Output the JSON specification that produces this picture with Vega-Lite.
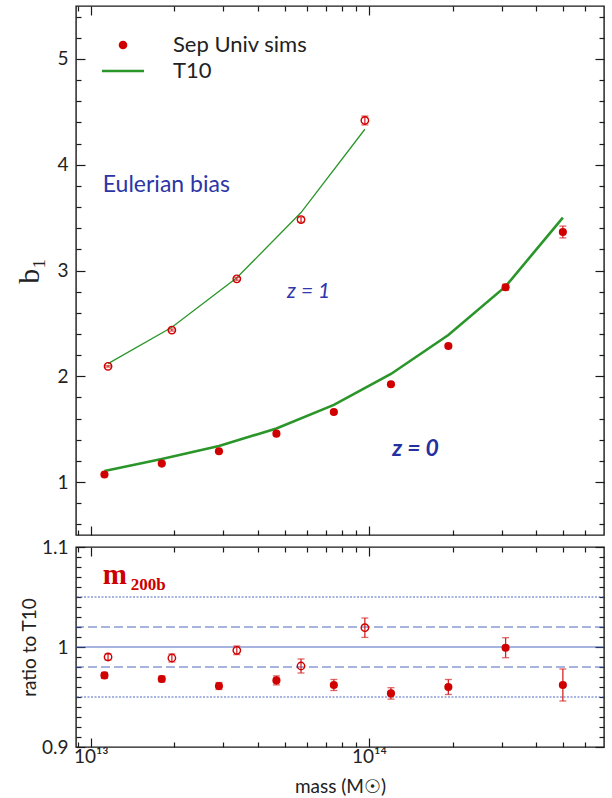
{
  "$schema": "https://vega.github.io/schema/vega-lite/v6.json",
  "background": "white",
  "padding": {"left": 14, "top": 4, "right": 8, "bottom": 0},
  "spacing": 0,
  "datasets": {
    "sims": [
      {"mass": 1.12e13, "b": 1.072, "berr": 0.004, "ratio": 0.9716, "rerr": 0.003, "z": "0"},
      {"mass": 1.80e13, "b": 1.175, "berr": 0.004, "ratio": 0.968, "rerr": 0.003, "z": "0"},
      {"mass": 2.89e13, "b": 1.292, "berr": 0.005, "ratio": 0.961, "rerr": 0.0035, "z": "0"},
      {"mass": 4.65e13, "b": 1.458, "berr": 0.006, "ratio": 0.9666, "rerr": 0.0045, "z": "0"},
      {"mass": 7.48e13, "b": 1.663, "berr": 0.009, "ratio": 0.962, "rerr": 0.0055, "z": "0"},
      {"mass": 1.20e14, "b": 1.925, "berr": 0.012, "ratio": 0.9536, "rerr": 0.0057, "z": "0"},
      {"mass": 1.93e14, "b": 2.286, "berr": 0.018, "ratio": 0.960, "rerr": 0.0075, "z": "0"},
      {"mass": 3.10e14, "b": 2.842, "berr": 0.028, "ratio": 0.9993, "rerr": 0.010, "z": "0"},
      {"mass": 4.98e14, "b": 3.364, "berr": 0.056, "ratio": 0.962, "rerr": 0.016, "z": "0"},
      {"mass": 1.154e13, "b": 2.094, "berr": 0.007, "ratio": 0.990, "rerr": 0.003, "z": "1"},
      {"mass": 1.957e13, "b": 2.437, "berr": 0.010, "ratio": 0.989, "rerr": 0.004, "z": "1"},
      {"mass": 3.35e13, "b": 2.921, "berr": 0.013, "ratio": 0.9967, "rerr": 0.0043, "z": "1"},
      {"mass": 5.70e13, "b": 3.481, "berr": 0.025, "ratio": 0.981, "rerr": 0.007, "z": "1"},
      {"mass": 9.67e13, "b": 4.418, "berr": 0.042, "ratio": 1.0193, "rerr": 0.0097, "z": "1"}
    ],
    "t10": [
      {"mass": 1.12e13, "b": 1.105, "z": "0"},
      {"mass": 1.80e13, "b": 1.218, "z": "0"},
      {"mass": 2.89e13, "b": 1.342, "z": "0"},
      {"mass": 4.65e13, "b": 1.507, "z": "0"},
      {"mass": 7.48e13, "b": 1.730, "z": "0"},
      {"mass": 1.20e14, "b": 2.022, "z": "0"},
      {"mass": 1.93e14, "b": 2.39, "z": "0"},
      {"mass": 3.10e14, "b": 2.85, "z": "0"},
      {"mass": 4.98e14, "b": 3.50, "z": "0"},
      {"mass": 1.154e13, "b": 2.12, "z": "1"},
      {"mass": 1.957e13, "b": 2.464, "z": "1"},
      {"mass": 3.35e13, "b": 2.931, "z": "1"},
      {"mass": 5.70e13, "b": 3.548, "z": "1"},
      {"mass": 9.67e13, "b": 4.335, "z": "1"}
    ],
    "refs": [
      {"ratio": 1.05, "style": "dotted"},
      {"ratio": 1.02, "style": "dashed"},
      {"ratio": 1.0, "style": "solid"},
      {"ratio": 0.98, "style": "dashed"},
      {"ratio": 0.95, "style": "dotted"}
    ]
  },
  "resolve": {"legend": {"color": "independent"}},
  "vconcat": [
    {
      "width": 528,
      "height": 529,
      "resolve": {"axis": {"x": "independent", "y": "independent"}},
      "layer": [
        {
          "data": {"name": "t10"},
          "mark": {"type": "line"},
          "encoding": {
            "x": {"field": "mass", "type": "quantitative", "scale": {"type": "log", "domain": [8.85e12, 7e14], "nice": false},
                  "axis": {"orient": "bottom", "values": [1e13, 1e14], "labels": false, "tickSize": -9, "title": null, "domain": false}},
            "y": {"field": "b", "type": "quantitative", "scale": {"domain": [0.5, 5.5], "zero": false, "nice": false},
                  "axis": {"orient": "left", "values": [1, 2, 3, 4, 5], "tickSize": -9, "labelPadding": 17, "domain": false,
                           "title": "b₁", "titleFont": "Liberation Serif", "titleFontSize": 30, "titlePadding": 12}},
            "detail": {"field": "z"},
            "strokeWidth": {"field": "z", "type": "nominal", "scale": {"domain": ["0", "1"], "range": [2.6, 1.3]}, "legend": null},
            "color": {"datum": "T10", "type": "nominal",
                      "scale": {"domain": ["Sep Univ sims", "T10"], "range": ["#d10000", "#2a962a"]},
                      "legend": {"orient": "none", "legendX": 36, "legendY": 28, "title": null, "padding": 0,
                                 "labelFont": "Lato", "labelFontSize": 22, "labelColor": "#222", "labelOffset": 39,
                                 "rowPadding": 4, "symbolSize": 1764,
                                 "encode": {"symbols": {"update": {
                                   "shape": {"signal": "datum.value === 'T10' ? 'stroke' : 'circle'"},
                                   "size": {"signal": "datum.value === 'T10' ? 1764 : 75"},
                                   "fill": {"signal": "datum.value === 'T10' ? 'transparent' : '#d10000'"},
                                   "stroke": {"signal": "datum.value === 'T10' ? '#2a962a' : '#d10000'"},
                                   "strokeWidth": {"signal": "datum.value === 'T10' ? 2.6 : 0"},
                                   "opacity": {"value": 1}
                                 }}}}}
          }
        },
        {
          "data": {"name": "sims"},
          "mark": {"type": "errorbar", "ticks": true, "color": "#d4262a", "size": 7, "thickness": 1.3},
          "encoding": {
            "x": {"field": "mass", "type": "quantitative", "scale": {"type": "log", "domain": [8.85e12, 7e14], "nice": false}, "axis": null},
            "y": {"field": "b", "type": "quantitative", "scale": {"domain": [0.5, 5.5], "zero": false, "nice": false}, "axis": null},
            "yError": {"field": "berr"}
          }
        },
        {
          "data": {"name": "sims"},
          "transform": [{"filter": "datum.z === '0'"}],
          "mark": {"type": "point", "filled": true, "size": 66, "opacity": 1, "color": "#d10000"},
          "encoding": {
            "x": {"field": "mass", "type": "quantitative", "scale": {"type": "log", "domain": [8.85e12, 7e14], "nice": false},
                  "axis": {"orient": "bottom", "values": [9e12, 2e13, 3e13, 4e13, 5e13, 6e13, 7e13, 8e13, 9e13, 2e14, 3e14, 4e14, 5e14, 6e14], "labels": false, "tickSize": -5, "title": null, "domain": false}},
            "y": {"field": "b", "type": "quantitative", "scale": {"domain": [0.5, 5.5], "zero": false, "nice": false},
                  "axis": {"orient": "left", "values": [0.6, 0.8, 1.2, 1.4, 1.6, 1.8, 2.2, 2.4, 2.6, 2.8, 3.2, 3.4, 3.6, 3.8, 4.2, 4.4, 4.6, 4.8, 5.2, 5.4], "labels": false, "tickSize": -5, "title": null, "domain": false}}
          }
        },
        {
          "data": {"name": "sims"},
          "transform": [{"filter": "datum.z === '1'"}],
          "mark": {"type": "point", "filled": false, "size": 55, "strokeWidth": 1.4, "opacity": 1, "color": "#d10000"},
          "encoding": {
            "x": {"field": "mass", "type": "quantitative", "scale": {"type": "log", "domain": [8.85e12, 7e14], "nice": false},
                  "axis": {"orient": "top", "values": [1e13, 1e14], "labels": false, "tickSize": -9, "title": null, "domain": false}},
            "y": {"field": "b", "type": "quantitative", "scale": {"domain": [0.5, 5.5], "zero": false, "nice": false},
                  "axis": {"orient": "right", "values": [1, 2, 3, 4, 5], "labels": false, "tickSize": -9, "title": null, "domain": false}}
          }
        },
        {
          "data": {"values": [{"label": "Eulerian bias"}]},
          "mark": {"type": "text", "align": "left", "baseline": "middle", "font": "Lato", "fontSize": 23, "color": "#2c35a6"},
          "encoding": {
            "x": {"datum": 1.105e13, "type": "quantitative", "scale": {"type": "log", "domain": [8.85e12, 7e14], "nice": false},
                  "axis": {"orient": "top", "values": [9e12, 2e13, 3e13, 4e13, 5e13, 6e13, 7e13, 8e13, 9e13, 2e14, 3e14, 4e14, 5e14, 6e14], "labels": false, "tickSize": -5, "title": null, "domain": false}},
            "y": {"datum": 3.81, "type": "quantitative", "scale": {"domain": [0.5, 5.5], "zero": false, "nice": false},
                  "axis": {"orient": "right", "values": [0.6, 0.8, 1.2, 1.4, 1.6, 1.8, 2.2, 2.4, 2.6, 2.8, 3.2, 3.4, 3.6, 3.8, 4.2, 4.4, 4.6, 4.8, 5.2, 5.4], "labels": false, "tickSize": -5, "title": null, "domain": false}},
            "text": {"field": "label"}
          }
        },
        {
          "data": {"values": [{"label": "z = 1"}]},
          "mark": {"type": "text", "align": "left", "baseline": "middle", "font": "Lato", "fontSize": 21, "fontStyle": "italic", "color": "#3038ac"},
          "encoding": {
            "x": {"datum": 5.08e13, "type": "quantitative", "scale": {"type": "log", "domain": [8.85e12, 7e14], "nice": false}, "axis": null},
            "y": {"datum": 2.795, "type": "quantitative", "scale": {"domain": [0.5, 5.5], "zero": false, "nice": false}, "axis": null},
            "text": {"field": "label"}
          }
        },
        {
          "data": {"values": [{"label": "z = 0"}]},
          "mark": {"type": "text", "align": "left", "baseline": "middle", "font": "Lato", "fontSize": 23, "fontStyle": "italic", "fontWeight": "bold", "color": "#2530a0"},
          "encoding": {
            "x": {"datum": 1.213e14, "type": "quantitative", "scale": {"type": "log", "domain": [8.85e12, 7e14], "nice": false}, "axis": null},
            "y": {"datum": 1.317, "type": "quantitative", "scale": {"domain": [0.5, 5.5], "zero": false, "nice": false}, "axis": null},
            "text": {"field": "label"}
          }
        }
      ]
    },
    {
      "width": 528,
      "height": 200,
      "resolve": {"axis": {"x": "independent", "y": "independent"}},
      "layer": [
        {
          "data": {"name": "refs"},
          "mark": {"type": "rule", "color": "#3a58b8", "strokeWidth": 0.9},
          "encoding": {
            "y": {"field": "ratio", "type": "quantitative", "scale": {"domain": [0.9, 1.1], "zero": false, "nice": false},
                  "axis": {"orient": "left", "values": [0.9, 1.0, 1.1], "format": "~g", "tickSize": -9, "labelPadding": 17, "domain": false,
                           "title": "ratio to T10", "titleFont": "Lato", "titleFontSize": 19, "titlePadding": 2}},
            "strokeDash": {"field": "style", "type": "nominal",
                           "scale": {"domain": ["dotted", "dashed", "solid"], "range": [[2, 1.5], [9, 4], [1, 0]]}, "legend": null}
          }
        },
        {
          "data": {"name": "sims"},
          "mark": {"type": "errorbar", "ticks": true, "color": "#d4262a", "size": 7, "thickness": 1.3},
          "encoding": {
            "x": {"field": "mass", "type": "quantitative", "scale": {"type": "log", "domain": [8.85e12, 7e14], "nice": false}, "axis": null},
            "y": {"field": "ratio", "type": "quantitative", "scale": {"domain": [0.9, 1.1], "zero": false, "nice": false}, "axis": null},
            "yError": {"field": "rerr"}
          }
        },
        {
          "data": {"name": "sims"},
          "transform": [{"filter": "datum.z === '0'"}],
          "mark": {"type": "point", "filled": true, "size": 66, "opacity": 1, "color": "#d10000"},
          "encoding": {
            "x": {"field": "mass", "type": "quantitative", "scale": {"type": "log", "domain": [8.85e12, 7e14], "nice": false},
                  "axis": {"orient": "bottom", "values": [1e13, 1e14], "tickSize": -9, "labelPadding": 9, "domain": false,
                           "labelExpr": "datum.value < 5e13 ? '10¹³' : '10¹⁴'",
                           "title": "mass (M☉)", "titleFont": "Lato", "titleFontSize": 19, "titlePadding": 11}},
            "y": {"field": "ratio", "type": "quantitative", "scale": {"domain": [0.9, 1.1], "zero": false, "nice": false},
                  "axis": {"orient": "left", "values": [0.91, 0.92, 0.93, 0.94, 0.95, 0.96, 0.97, 0.98, 0.99, 1.01, 1.02, 1.03, 1.04, 1.05, 1.06, 1.07, 1.08, 1.09], "labels": false, "tickSize": -5, "title": null, "domain": false}}
          }
        },
        {
          "data": {"name": "sims"},
          "transform": [{"filter": "datum.z === '1'"}],
          "mark": {"type": "point", "filled": false, "size": 55, "strokeWidth": 1.4, "opacity": 1, "color": "#d10000"},
          "encoding": {
            "x": {"field": "mass", "type": "quantitative", "scale": {"type": "log", "domain": [8.85e12, 7e14], "nice": false},
                  "axis": {"orient": "top", "values": [1e13, 1e14], "labels": false, "tickSize": -9, "title": null, "domain": false}},
            "y": {"field": "ratio", "type": "quantitative", "scale": {"domain": [0.9, 1.1], "zero": false, "nice": false},
                  "axis": {"orient": "right", "values": [0.9, 1.0, 1.1], "labels": false, "tickSize": -9, "title": null, "domain": false}}
          }
        },
        {
          "data": {"values": [{"label": "m"}]},
          "mark": {"type": "text", "align": "left", "baseline": "alphabetic", "font": "Liberation Serif", "fontSize": 29, "fontWeight": "bold", "color": "#cc0000"},
          "encoding": {
            "x": {"datum": 1.105e13, "type": "quantitative", "scale": {"type": "log", "domain": [8.85e12, 7e14], "nice": false},
                  "axis": {"orient": "bottom", "values": [9e12, 2e13, 3e13, 4e13, 5e13, 6e13, 7e13, 8e13, 9e13, 2e14, 3e14, 4e14, 5e14, 6e14], "labels": false, "tickSize": -5, "title": null, "domain": false}},
            "y": {"datum": 1.0633, "type": "quantitative", "scale": {"domain": [0.9, 1.1], "zero": false, "nice": false},
                  "axis": {"orient": "right", "values": [0.91, 0.92, 0.93, 0.94, 0.95, 0.96, 0.97, 0.98, 0.99, 1.01, 1.02, 1.03, 1.04, 1.05, 1.06, 1.07, 1.08, 1.09], "labels": false, "tickSize": -5, "title": null, "domain": false}},
            "text": {"field": "label"}
          }
        },
        {
          "data": {"values": [{"label": "200b"}]},
          "mark": {"type": "text", "align": "left", "baseline": "alphabetic", "font": "Liberation Serif", "fontSize": 17, "fontWeight": "bold", "color": "#cc0000"},
          "encoding": {
            "x": {"datum": 1.393e13, "type": "quantitative", "scale": {"type": "log", "domain": [8.85e12, 7e14], "nice": false},
                  "axis": {"orient": "top", "values": [9e12, 2e13, 3e13, 4e13, 5e13, 6e13, 7e13, 8e13, 9e13, 2e14, 3e14, 4e14, 5e14, 6e14], "labels": false, "tickSize": -5, "title": null, "domain": false}},
            "y": {"datum": 1.0566, "type": "quantitative", "scale": {"domain": [0.9, 1.1], "zero": false, "nice": false}, "axis": null},
            "text": {"field": "label"}
          }
        }
      ]
    }
  ],
  "config": {
    "view": {"stroke": "#1a1a1a", "strokeWidth": 1.4},
    "axis": {"grid": false, "ticks": true, "tickColor": "#1a1a1a", "tickWidth": 1.2, "labelFont": "Lato", "labelFontSize": 19, "labelColor": "#222",
             "titleFont": "Lato", "titleColor": "#222", "titleFontWeight": "normal"},
    "font": "Lato"
  }
}
